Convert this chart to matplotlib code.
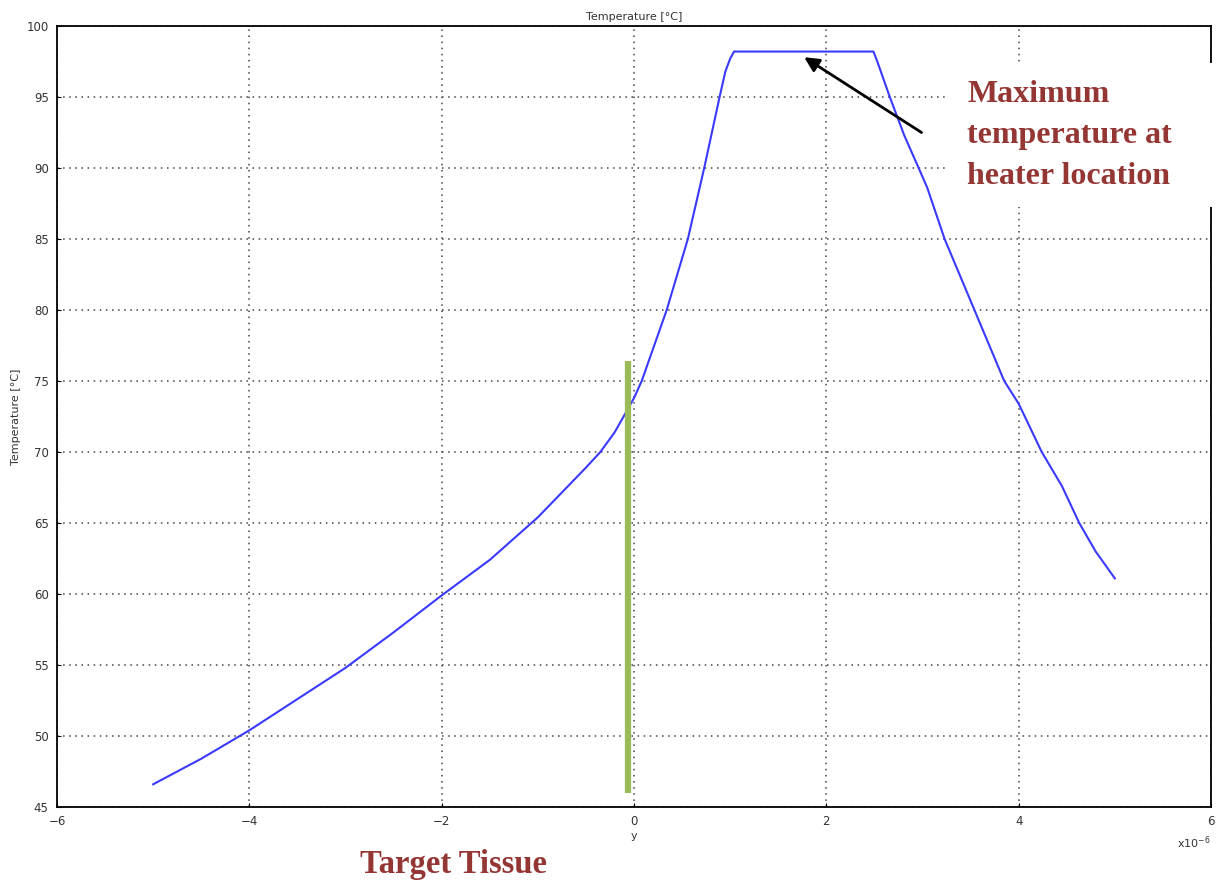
import matplotlib.pyplot as plt
from matplotlib.patches import Rectangle

# y position [x1e-6 m] and temperature [degC]
y_pos = [-5.0, -4.5, -4.0, -3.5, -3.0, -2.5, -2.0, -1.5, -1.0, -0.5, -0.35, -0.2,
         0.0, 0.08, 0.34, 0.56, 0.73, 0.89, 0.95, 1.0, 1.04,
         2.49, 2.53, 2.66, 2.81, 2.96, 3.05, 3.23, 3.54, 3.85, 4.0,
         4.24, 4.45, 4.63, 4.8, 5.0]
temp = [46.6, 48.4, 50.4, 52.6, 54.8, 57.3, 59.9, 62.4, 65.4, 68.9, 70.0, 71.4,
        73.8, 75.0, 80.0, 85.0, 90.0, 95.0, 96.8, 97.7, 98.2,
        98.2, 97.5, 95.0, 92.3, 90.0, 88.6, 85.0, 80.0, 75.0, 73.4,
        70.0, 67.6, 65.0, 63.0, 61.1]

tissue_x = -0.06
tissue_lo, tissue_hi = 46.0, 76.4
arrow_head = (1.77, 97.8)
arrow_tail = (2.99, 92.5)

red = '#943634'
grey = '#333333'

fig = plt.figure(figsize=(12.24, 8.86), dpi=100)
ax = fig.add_axes([57/1224, 1 - 807/886, (1211-57)/1224, (807-26)/886])

ax.plot(y_pos, temp, color='#3a3aff', lw=1.5, zorder=3)
ax.plot([tissue_x, tissue_x], [tissue_lo, tissue_hi], color='#9bbb59', lw=4.5,
        solid_capstyle='butt', zorder=4)

ax.set_xlim(-6, 6)
ax.set_ylim(45, 100)
ax.set_xticks(range(-6, 7, 2))
ax.set_yticks(range(45, 101, 5))
ax.grid(True, color='#444444', linestyle=(0, (1, 3)), lw=1.1)
for s in ax.spines.values():
    s.set_linewidth(1.3)
ax.tick_params(direction='in', length=3, labelsize=8.5, labelcolor=grey, pad=6)

ax.set_title('Temperature [°C]', fontsize=8, color=grey, pad=4)
ax.set_xlabel('y', fontsize=8, color=grey, labelpad=2)
ax.set_ylabel('Temperature [°C]', fontsize=8, color=grey, labelpad=4)
ax.text(1.0, -0.035, 'x10$^{-6}$', transform=ax.transAxes, ha='right', va='top',
        fontsize=8, color=grey)

ax.annotate('', xy=arrow_head, xytext=arrow_tail, annotation_clip=False,
            arrowprops=dict(arrowstyle='-|>', color='black', lw=2,
                            mutation_scale=22, shrinkA=0, shrinkB=0), zorder=6)

# white box hiding the grid behind the note
fig.patches.append(Rectangle((945/1224, 1 - 207/886), 0.25, 144/886,
                             transform=fig.transFigure, facecolor='white',
                             edgecolor='none', zorder=5))
fig.text(967/1224, 1 - 80/886, 'Maximum\ntemperature at\nheater location',
         ha='left', va='top', fontsize=23, fontweight='bold',
         family='Liberation Serif', color=red, zorder=6, linespacing=1.55)
fig.text(453/1224, 1 - 864/886, 'Target Tissue', ha='center', va='center',
         fontsize=23.5, fontweight='bold', family='Liberation Serif', color=red)

fig.savefig('out.png', dpi=100)
